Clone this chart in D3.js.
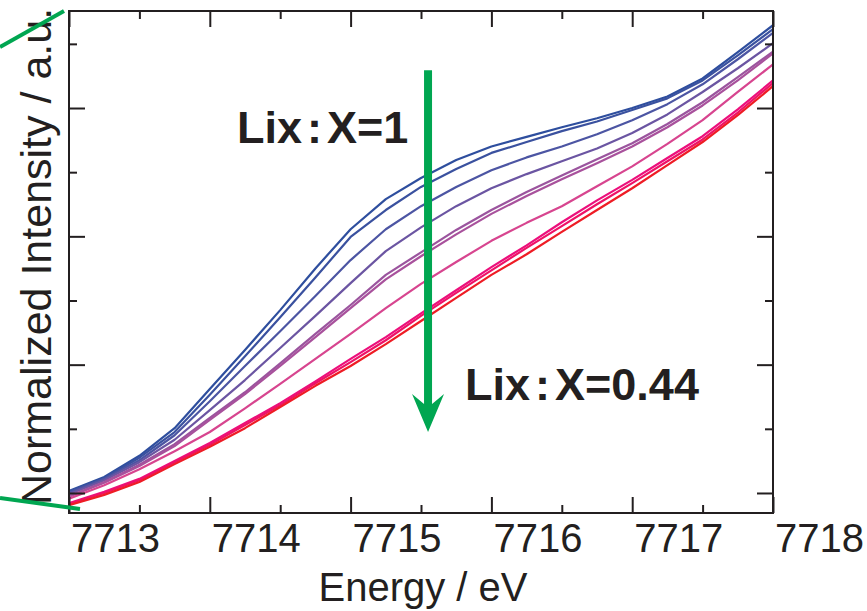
<!DOCTYPE html>
<html>
<head>
<meta charset="utf-8">
<script src="https://cdn.jsdelivr.net/npm/d3@7"></script>
<style>
body { margin: 0; background: #fff; }
svg { display: block; font-family: "Liberation Sans", Arial, sans-serif; }
</style>
</head>
<body>
<svg width="867" height="611"></svg>
<script>
// energy grid (eV)
const energy = [7713, 7713.25, 7713.5, 7713.75, 7714, 7714.25, 7714.5, 7714.75, 7715, 7715.25,
  7715.5, 7715.75, 7716, 7716.25, 7716.5, 7716.75, 7717, 7717.25, 7717.5, 7717.75, 7718]

// normalized intensity, from Lix:X=1 (blue) down to Lix:X=0.44 (red)
const spec1 = [0.203, 0.225, 0.258, 0.301, 0.362, 0.423, 0.485, 0.550, 0.611, 0.658, 0.691, 0.719, 0.740, 0.755, 0.770, 0.784, 0.800, 0.818, 0.846, 0.887, 0.929]
const spec2 = [0.202, 0.223, 0.255, 0.295, 0.353, 0.413, 0.474, 0.536, 0.599, 0.641, 0.677, 0.705, 0.730, 0.747, 0.764, 0.779, 0.797, 0.815, 0.843, 0.882, 0.923]
const spec3 = [0.200, 0.222, 0.251, 0.290, 0.343, 0.398, 0.452, 0.507, 0.563, 0.611, 0.647, 0.677, 0.703, 0.723, 0.740, 0.759, 0.781, 0.806, 0.837, 0.876, 0.917]
const spec4 = [0.198, 0.220, 0.248, 0.283, 0.329, 0.376, 0.426, 0.476, 0.527, 0.577, 0.614, 0.647, 0.675, 0.697, 0.717, 0.737, 0.761, 0.790, 0.825, 0.862, 0.901]
const spec5 = [0.195, 0.217, 0.244, 0.276, 0.317, 0.357, 0.402, 0.448, 0.493, 0.540, 0.575, 0.610, 0.641, 0.669, 0.695, 0.720, 0.745, 0.775, 0.809, 0.848, 0.888]
const spec6 = [0.194, 0.216, 0.242, 0.273, 0.314, 0.354, 0.398, 0.443, 0.488, 0.533, 0.569, 0.603, 0.635, 0.663, 0.689, 0.714, 0.740, 0.770, 0.804, 0.843, 0.885]
const spec7 = [0.191, 0.212, 0.237, 0.265, 0.295, 0.332, 0.370, 0.409, 0.448, 0.488, 0.526, 0.560, 0.593, 0.621, 0.647, 0.678, 0.709, 0.744, 0.781, 0.825, 0.868]
const spec8 = [0.184, 0.202, 0.222, 0.250, 0.278, 0.309, 0.340, 0.374, 0.409, 0.443, 0.480, 0.516, 0.552, 0.586, 0.622, 0.656, 0.688, 0.722, 0.756, 0.798, 0.843]
const spec9 = [0.183, 0.200, 0.220, 0.248, 0.275, 0.306, 0.337, 0.371, 0.404, 0.438, 0.476, 0.512, 0.547, 0.582, 0.616, 0.650, 0.683, 0.717, 0.751, 0.793, 0.839]
const spec10 = [0.181, 0.197, 0.217, 0.245, 0.272, 0.301, 0.334, 0.367, 0.398, 0.432, 0.468, 0.504, 0.540, 0.572, 0.607, 0.641, 0.675, 0.711, 0.747, 0.789, 0.834]

const spectra = [spec1, spec2, spec3, spec4, spec5, spec6, spec7, spec8, spec9, spec10]
const colors = ['#2e4e9e', '#3a519f', '#4c55a3', '#6b55a2', '#9b549e', '#a8519c', '#d7458f', '#ec0f7c', '#ee1266', '#ee1c25']

const xMajor = [7713, 7714, 7715, 7716, 7717, 7718]
const xMinor = [7713.5, 7714.5, 7715.5, 7716.5, 7717.5]
const yMajor = [0.2, 0.4, 0.6, 0.8]
const yMinor = [0.3, 0.5, 0.7, 0.9]

const ink = '#231f20'
const green = '#00a651'

const svg = d3.select('svg')
const margin = {top: 11, right: 94, bottom: 98, left: 69}
const width = +svg.attr('width') - margin.left - margin.right
const height = +svg.attr('height') - margin.top - margin.bottom
const g = svg.append('g').attr('transform', `translate(${margin.left},${margin.top})`)

const x = d3.scaleLinear().domain([7713, 7718]).range([0, width])
const y = d3.scaleLinear().domain([0.1688, 0.9512]).range([height, 0])

svg.append('defs').append('clipPath').attr('id', 'plot')
  .append('rect').attr('width', width).attr('height', height)

// spectra
const line = d3.line()
  .x((d, i) => x(energy[i]))
  .y((d) => y(d))

g.append('g')
  .attr('clip-path', 'url(#plot)')
  .selectAll('path')
  .data(spectra)
  .join('path')
  .attr('fill', 'none')
  .attr('stroke', (d, i) => colors[i])
  .attr('stroke-width', 2.2)
  .attr('stroke-linejoin', 'round')
  .attr('d', line)

// axes with inward ticks on all four sides
function tickAxis(axis, values, size, translate) {
  const a = g.append('g')
    .attr('transform', translate)
    .call(axis.tickValues(values).tickSizeInner(-size).tickSizeOuter(0).tickFormat(''))
  a.select('.domain').remove()
  a.selectAll('line').attr('stroke', ink).attr('stroke-width', 2)
  return a
}

tickAxis(d3.axisBottom(x), xMajor, 16, `translate(0,${height})`)
tickAxis(d3.axisBottom(x), xMinor, 8, `translate(0,${height})`)
tickAxis(d3.axisTop(x), xMajor, 16, 'translate(0,0)')
tickAxis(d3.axisTop(x), xMinor, 8, 'translate(0,0)')
tickAxis(d3.axisLeft(y), yMajor, 16, 'translate(0,0)')
tickAxis(d3.axisLeft(y), yMinor, 8, 'translate(0,0)')
tickAxis(d3.axisRight(y), yMajor, 16, `translate(${width},0)`)
tickAxis(d3.axisRight(y), yMinor, 8, `translate(${width},0)`)

// x tick labels (sit to the right of their ticks)
g.append('g')
  .selectAll('text')
  .data(xMajor)
  .join('text')
  .attr('x', (d) => x(d) + 2)
  .attr('y', height + 39)
  .attr('font-size', 40)
  .attr('fill', ink)
  .text((d) => d)

g.append('rect')
  .attr('width', width)
  .attr('height', height)
  .attr('fill', 'none')
  .attr('stroke', ink)
  .attr('stroke-width', 2)

// axis titles
svg.append('text')
  .attr('x', 423)
  .attr('y', 601)
  .attr('text-anchor', 'middle')
  .attr('font-size', 40)
  .attr('fill', ink)
  .text('Energy / eV')

svg.append('text')
  .attr('transform', 'translate(51,505) rotate(-90)')
  .attr('font-size', 43)
  .attr('fill', ink)
  .text('Normalized Intensity / a.u.')

// zoom guide lines from the parent figure
svg.append('line').attr('x1', 0).attr('y1', 47).attr('x2', 64).attr('y2', 11)
  .attr('stroke', green).attr('stroke-width', 4)
svg.append('line').attr('x1', 0).attr('y1', 498).attr('x2', 80).attr('y2', 509)
  .attr('stroke', green).attr('stroke-width', 4)

// trend arrow
const ax = x(7715.55) + margin.left
const aTop = y(0.859) + margin.top
const aTip = y(0.295) + margin.top
svg.append('path')
  .attr('fill', green)
  .attr('d', `M${ax - 4},${aTop}H${ax + 4}V${aTip - 28}L${ax + 16},${aTip - 38}L${ax},${aTip}L${ax - 16},${aTip - 38}L${ax - 4},${aTip - 28}Z`)

// labels
function lixLabel(xPos, yPos, value) {
  const t = svg.append('text')
    .attr('x', xPos)
    .attr('y', yPos)
    .attr('font-size', 45)
    .attr('font-weight', 'bold')
    .attr('fill', ink)
  t.append('tspan').text('Lix')
  t.append('tspan').attr('dx', 5).text(':')
  t.append('tspan').attr('dx', 5).text('X=' + value)
}
lixLabel(237, 143, '1')
lixLabel(465, 400, '0.44')
</script>
</body>
</html>
